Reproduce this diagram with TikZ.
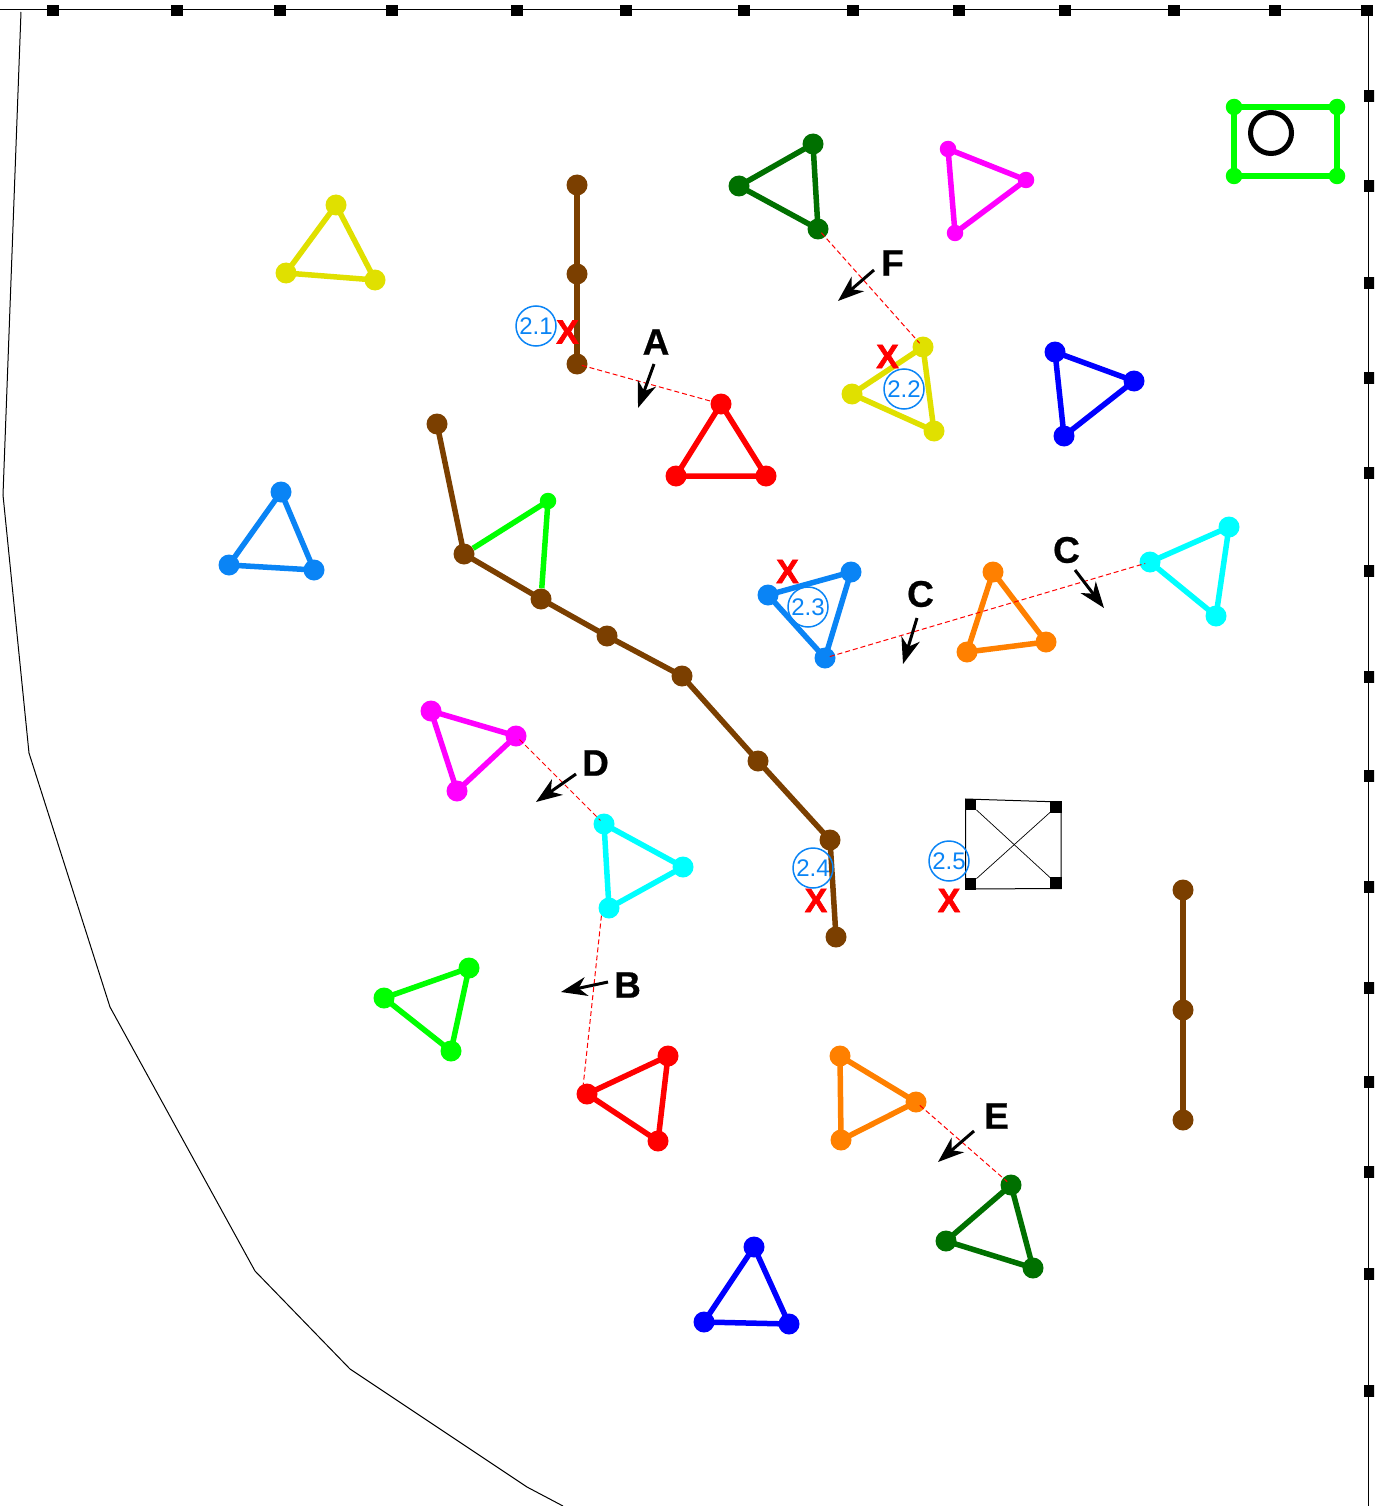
\documentclass[tikz,border=0pt]{standalone}
\usepackage{fontspec}
\setmainfont{Liberation Sans}
\newfontfamily\heavyfont[BoldFont={Liberation Sans Bold},BoldFeatures={FakeBold=2}]{Liberation Sans}
\newfontfamily\semiheavyfont[BoldFont={Liberation Sans Bold},BoldFeatures={FakeBold=0.6}]{Liberation Sans}
\usetikzlibrary{arrows.meta}
\definecolor{cbrown}{HTML}{7B3F00}
\definecolor{cyellow}{HTML}{E0E000}
\definecolor{cdgreen}{HTML}{007000}
\definecolor{cazure}{HTML}{0A84F5}
\definecolor{corange}{HTML}{FF8000}
\definecolor{cgreen}{HTML}{00FF00}
\definecolor{ccyan}{HTML}{00FFFF}
\definecolor{cmag}{HTML}{FF00FF}
\definecolor{cblue}{HTML}{0000FF}
\definecolor{cred}{HTML}{FF0000}
\tikzset{
  vtx/.style={circle,fill=#1,draw=none,inner sep=0pt,minimum size=21pt},
  svtx/.style={circle,fill=#1,draw=none,inner sep=0pt,minimum size=16.5pt},
  edgeline/.style={draw=#1,line width=5.5pt,line cap=butt},
  tick/.style={rectangle,fill=black,draw=none,inner sep=0pt,minimum size=11.5pt},
  rail/.style={draw=black,line width=1pt},
  link/.style={draw=cred,line width=1pt,dash pattern=on 5pt off 3pt,shorten <=5pt,shorten >=5pt},
  pointer/.style={draw=black,line width=3pt,-{Stealth[length=26pt,width=19pt,inset=8pt]}},
  letter/.style={font=\fontsize{37}{37}\selectfont\semiheavyfont\bfseries,text=black,inner sep=0pt},
  mark x/.style={font=\fontsize{33.5}{33.5}\selectfont\heavyfont\bfseries,text=cred,inner sep=0pt},
  badge/.style={circle,draw=cazure,line width=1.5pt,text=cazure,inner sep=0pt,minimum size=40pt,font=\fontsize{24}{24}\selectfont},
}
\newcommand{\mktri}[6]{%
  \node[vtx=#2] (#1a) at (#3) {};
  \node[vtx=#2] (#1b) at (#4) {};
  \node[vtx=#2] (#1c) at (#5) {};
  \draw[edgeline=#2] (#1a.center) -- (#1b.center) -- (#1c.center) -- cycle;
}
\newcommand{\mkarrow}[3]{%
  \coordinate (#1s) at (#2);
  \coordinate (#1e) at (#3);
  \draw[pointer] (#1s) -- (#1e);
}
\begin{document}
\begin{tikzpicture}[x=1pt,y=-1pt]
\useasboundingbox (0,0) rectangle (1374,1506);
% frame
\coordinate (tl) at (0,10);
\coordinate (tr) at (1368.5,10);
\coordinate (br) at (1368.5,1506);
\draw[rail] (tl) -- (tr) -- (br);
\foreach \i/\x in {1/53,2/177,3/280,4/392,5/517,6/626,7/744,8/853,9/959,10/1065,11/1174,12/1275,13/1367}
  \node[tick] (t\i) at (\x,10.5) {};
\begin{scope}
\clip (0,0) rectangle (1374,1506);
\foreach \i/\y in {1/96,2/186,3/283,4/378,5/473,6/571,7/677,8/776,9/887,10/988,11/1082,12/1172,13/1274,14/1391}
  \node[tick] (r\i) at (1369.5,\y) {};
\end{scope}
% outline
\coordinate (o1) at (21,12);
\coordinate (o2) at (3,495);
\coordinate (o3) at (29,753);
\coordinate (o4) at (110,1007);
\coordinate (o5) at (255,1271);
\coordinate (o6) at (350,1369);
\coordinate (o7) at (527,1487);
\coordinate (o8) at (563,1506);
\draw[rail] (o1) -- (o2) -- (o3) -- (o4) -- (o5) -- (o6) -- (o7) -- (o8);
% triangles
\mktri{ya}{cyellow}{336,205}{286,273}{375,280}{}
\mktri{ga}{cdgreen}{813,144}{739,186}{818,229}{}
\mktri{ra}{cred}{721,404}{676,476}{766,476}{}
\mktri{yb}{cyellow}{923,347}{852,394}{934,431}{}
\mktri{ba}{cblue}{1055,352}{1134,381}{1064,436}{}
\mktri{za}{cazure}{281,492}{229,565}{314,570}{}
\mktri{zb}{cazure}{851,572}{768,595}{825,658}{}
\mktri{oa}{corange}{993,572}{967,652}{1046,642}{}
\mktri{ca}{ccyan}{1229,527}{1150,562}{1216,616}{}
\mktri{ma}{cmag}{431,711}{516,736}{457,791}{}
\mktri{cb}{ccyan}{604,824}{683,867}{609,908}{}
\mktri{la}{cgreen}{469,968}{384,998}{451,1051}{}
\mktri{rb}{cred}{668,1056}{587,1094}{658,1141}{}
\mktri{ob}{corange}{840,1056}{916,1102}{841,1140}{}
\mktri{gb}{cdgreen}{1011,1185}{946,1241}{1033,1268}{}
\mktri{bb}{cblue}{754,1247}{704,1322}{789,1324}{}
% small magenta triangle
\node[svtx=cmag] (mba) at (948,149) {};
\node[svtx=cmag] (mbb) at (1026,180) {};
\node[svtx=cmag] (mbc) at (955,233) {};
\draw[edgeline=cmag] (mba.center) -- (mbb.center) -- (mbc.center) -- cycle;
% green rectangle and circle
\node[svtx=cgreen] (gr1) at (1234,107) {};
\node[svtx=cgreen] (gr2) at (1337,107) {};
\node[svtx=cgreen] (gr3) at (1337,176) {};
\node[svtx=cgreen] (gr4) at (1234,176) {};
\draw[edgeline=cgreen] (gr1.center) -- (gr2.center) -- (gr3.center) -- (gr4.center) -- cycle;
\node[circle,draw=black,line width=5pt,inner sep=0pt,minimum size=41pt] (hole) at (1271,133) {};
% brown chains
\node[vtx=cbrown] (u1) at (577,185) {};
\node[vtx=cbrown] (u2) at (577,274) {};
\node[vtx=cbrown] (u3) at (577,364) {};
\draw[edgeline=cbrown] (u1.center) -- (u2.center) -- (u3.center);
\node[vtx=cbrown] (v1) at (1183,890) {};
\node[vtx=cbrown] (v2) at (1183,1010) {};
\node[vtx=cbrown] (v3) at (1183,1120) {};
\draw[edgeline=cbrown] (v1.center) -- (v2.center) -- (v3.center);
% green triangle on long chain
\node[svtx=cgreen] (w0) at (548,501) {};
\node[vtx=cbrown] (w1) at (437,424) {};
\node[vtx=cbrown] (w2) at (464,554) {};
\node[vtx=cbrown] (w3) at (541,599) {};
\node[vtx=cbrown] (w4) at (607,636) {};
\node[vtx=cbrown] (w5) at (682,676) {};
\node[vtx=cbrown] (w6) at (758,761) {};
\node[vtx=cbrown] (w7) at (830,840) {};
\node[vtx=cbrown] (w8) at (836,937) {};
\draw[edgeline=cgreen] (w2) -- (w0.center) -- (w3);
\draw[edgeline=cbrown] (w1.center) -- (w2.center) -- (w3.center) -- (w4.center) -- (w5.center) -- (w6.center) -- (w7.center) -- (w8.center);
% black square
\coordinate (q1) at (965.5,799);
\coordinate (q2) at (1061,802);
\coordinate (q3) at (1061,888.5);
\coordinate (q4) at (965.5,889);
\node[tick] (s1) at (970.5,804.5) {};
\node[tick] (s2) at (1056,807) {};
\node[tick] (s3) at (1056,883) {};
\node[tick] (s4) at (970.5,884) {};
\draw[rail] (q1) -- (q2) -- (q3) -- (q4) -- cycle;
\draw[rail,line width=0.7pt] (s1) -- (s3);
\draw[rail,line width=0.7pt] (s2) -- (s4);
% dashed links
\draw[link] (u3.center) -- (raa.center);
\draw[link] (gac.center) -- (yba.center);
\draw[link] (zbc.center) -- (cab.center);
\draw[link] (mab.center) -- (cba.center);
\draw[link,shorten <=0pt,shorten >=0pt] (cbc.south west) -- (rbb.110);
\draw[link] (obb.center) -- (gba.center);
% pointers
\mkarrow{pa}{654,364}{638,408}
\mkarrow{pf}{874,270}{838,301}
\mkarrow{pc}{917,618}{903,664}
\mkarrow{pd}{1075,570}{1104,608}
\mkarrow{pe}{576,774}{536,802}
\mkarrow{pb}{608,982}{561,992}
\mkarrow{pg}{974,1131}{938,1162}
% letters
\node[letter] (la1) at (656,342) {A};
\node[letter] (la2) at (892.5,263) {F};
\node[letter] (la3) at (920.5,594) {C};
\node[letter] (la4) at (1066.5,550) {C};
\node[letter] (la5) at (595.5,763) {D};
\node[letter] (la6) at (627.5,985) {B};
\node[letter] (la7) at (996.5,1116) {E};
% red marks
\node[mark x] (x1) at (567.5,332) {X};
\node[mark x] (x2) at (887.5,356.5) {X};
\node[mark x] (x3) at (787.5,571.5) {X};
\node[mark x] (x4) at (816,900.5) {X};
\node[mark x] (x5) at (949,900.5) {X};
% badges
\node[badge] (b1) at (536,326) {2.1};
\node[badge] (b2) at (904,389) {2.2};
\node[badge] (b3) at (808,607) {2.3};
\node[badge] (b4) at (813,868) {2.4};
\node[badge] (b5) at (949,861) {2.5};
\end{tikzpicture}
\end{document}
